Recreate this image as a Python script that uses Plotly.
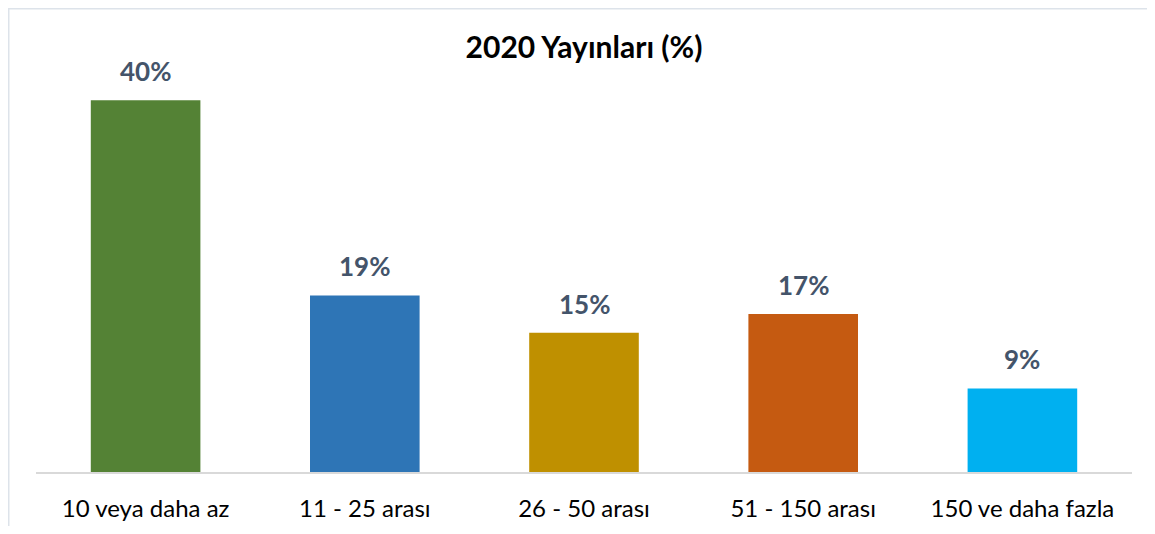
import plotly.graph_objects as go

categories = ['10 veya daha az', '11 - 25 arası', '26 - 50 arası', '51 - 150 arası', '150 ve daha fazla']
values = [40, 19, 15, 17, 9]
labels = ['40%', '19%', '15%', '17%', '9%']
colors = ['#548235', '#2E75B6', '#BF9000', '#C55A11', '#00B0F0']

# page body has an 8px margin, so the figure is a little smaller than the window
W, H = 1139, 518
L, R, T, B = 28, 15, 18, 54
pw, ph = W - L - R, H - T - B

fig = go.Figure()

fig.add_trace(go.Bar(
    x=categories, y=values,
    marker=dict(color=colors, line=dict(width=0)),
    hoverinfo='skip',
))

for cat, val, lab in zip(categories, values, labels):
    fig.add_annotation(
        x=cat, y=val, text=lab, showarrow=False,
        yanchor='bottom', yshift=11,
        font=dict(family='Lato, Open Sans, sans-serif', size=26, color='#44546A', weight='bold'),
    )

fig.update_layout(
    title=dict(
        text='<b>2020 Yayınları (%)</b>',
        x=0.5, xref='paper', y=1 - 39 / H, yanchor='middle',
        font=dict(family='Lato, Open Sans, sans-serif', size=30, color='#000000'),
    ),
    width=W, height=H,
    margin=dict(l=L, r=R, t=T, b=B),
    plot_bgcolor='white', paper_bgcolor='white',
    bargap=0.5,
    showlegend=False,
    xaxis=dict(
        showline=True, linecolor='#D9D9D9', linewidth=2,
        showgrid=False, ticks='', ticklabelstandoff=14, automargin=False,
        tickfont=dict(family='Lato, Open Sans, sans-serif', size=24, color='#000000'),
    ),
    yaxis=dict(range=[0, 48], visible=False, showgrid=False, zeroline=False, automargin=False),
    # chart frame: only its top and left edges fall inside the window
    shapes=[dict(
        type='rect', xref='paper', yref='paper',
        x0=(0 - L) / pw, x1=(W + 20 - L) / pw,
        y0=(-20 - B) / ph, y1=(H - B) / ph,
        line=dict(color='#DDE3EA', width=3), fillcolor='rgba(0,0,0,0)', layer='below',
    )],
)

fig.write_html('out.html')
